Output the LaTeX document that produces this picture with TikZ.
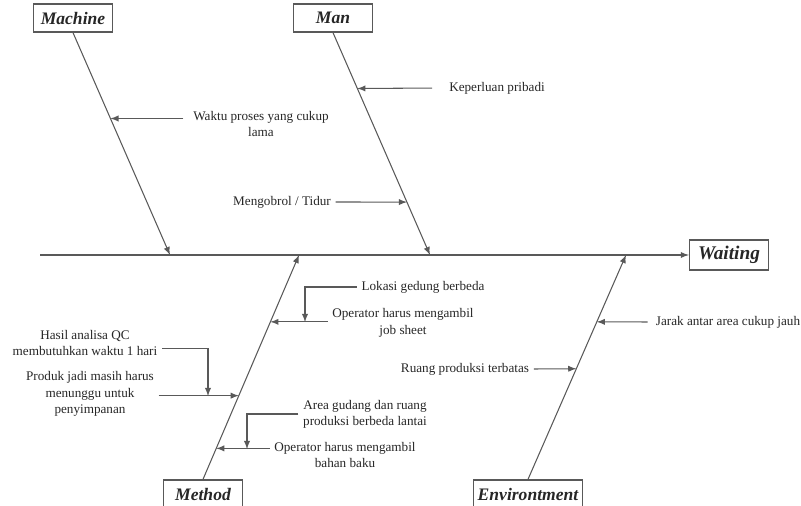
\documentclass[tikz,border=0pt]{standalone}
\usepackage{fontspec}
\setmainfont{Liberation Serif}
\usetikzlibrary{calc}

\begin{document}
\begin{tikzpicture}[x=0.02cm, y=-0.02cm, >=latex,
  cause/.style={draw=\cLine, line width=0.6pt, ->},
  head/.style={draw=\cLine, line width=0.7pt, inner sep=0pt, minimum width=45pt, minimum height=16pt, text=\cText, font=\bfseries\itshape\fontsize{10}{12}\selectfont},
  note/.style={text=\cText, inner sep=2.5pt, align=center, font=\fontsize{7.5}{9.3}\selectfont}]
\def\cLine{black!65}
\def\cText{black!85}
\useasboundingbox (0,0) rectangle (801,506);
% heads and effect
\node[head] (machine) at (73,18) {Machine};
\node[head] (man) at (333,18) {Man};
\node[head] (method) at (203,494) {Method};
\node[head, minimum width=62pt] (envi) at (528,494) {Environtment};
\node[head, minimum height=17pt, font=\bfseries\itshape\fontsize{11}{13}\selectfont] (waiting) at (729,255) {Waiting};
% spine and bones
\coordinate (tail) at (40,255);
\coordinate (jMachine) at (170,255);
\coordinate (jMan) at (430,255);
\coordinate (jMethod) at (299,255);
\coordinate (jEnvi) at (626,255);
\draw[cause] (tail) -- (waiting.west);
\draw[cause] (machine.south) -- (jMachine);
\draw[cause] (man.south) -- (jMan);
\draw[cause] (method.north) -- (jMethod);
\draw[cause] (envi.north) -- (jEnvi);
% points on the bones
\coordinate (w1) at ($(machine.south)!0.386!(jMachine)$);
\coordinate (k1) at ($(man.south)!0.251!(jMan)$);
\coordinate (k2) at ($(man.south)!0.762!(jMan)$);
\coordinate (m1) at ($(method.north)!0.702!(jMethod)$);
\coordinate (m2) at ($(method.north)!0.373!(jMethod)$);
\coordinate (m3) at ($(method.north)!0.138!(jMethod)$);
\coordinate (e1) at ($(envi.north)!0.702!(jEnvi)$);
\coordinate (e2) at ($(envi.north)!0.493!(jEnvi)$);
% machine
\node[note] (waktu) at (261,124) {Waktu proses yang cukup\\lama};
\draw[cause, shorten <=3pt] (waktu.west |- w1) -- (w1);
% man
\node[note] (perlu) at (497,88) {Keperluan pribadi};
\draw[cause, shorten <=7pt] (perlu.west) -- (k1);
\node[note] (ngobrol) at (282,202) {Mengobrol / Tidur};
\draw[cause] (ngobrol.east) -- (k2);
% method
\node[note] (jobsheet) at (403,323) {Operator harus mengambil\\job sheet};
\draw[cause] (jobsheet.west |- m1) -- (m1);
\coordinate (d1) at (305,322);
\node[note] (lokasi) at (423,287) {Lokasi gedung berbeda};
\draw[cause] (lokasi.west) -| (d1);
\node[note] (simpan) at (90,394) {Produk jadi masih harus\\menunggu untuk\\penyimpanan};
\draw[cause] (simpan.east |- m2) -- (m2);
\coordinate (d2) at (208,396);
\node[note] (qc) at (85,343) {Hasil analisa QC\\membutuhkan waktu 1 hari};
\draw[cause] ([yshift=-3pt]qc.east) -| (d2);
\node[note] (baku) at (345,455) {Operator harus mengambil\\bahan baku};
\draw[cause] (baku.west |- m3) -- (m3);
\coordinate (d3) at (247,449);
\node[note] (lantai) at (365,414) {Area gudang dan ruang\\produksi berbeda lantai};
\draw[cause] (lantai.west) -| (d3);
% environment
\node[note] (jarak) at (728,322) {Jarak antar area cukup jauh};
\draw[cause, shorten <=2pt] (jarak.west) -- (e1);
\node[note] (ruang) at (465,369) {Ruang produksi terbatas};
\draw[cause] (ruang.east) -- (e2);
\end{tikzpicture}
\end{document}
